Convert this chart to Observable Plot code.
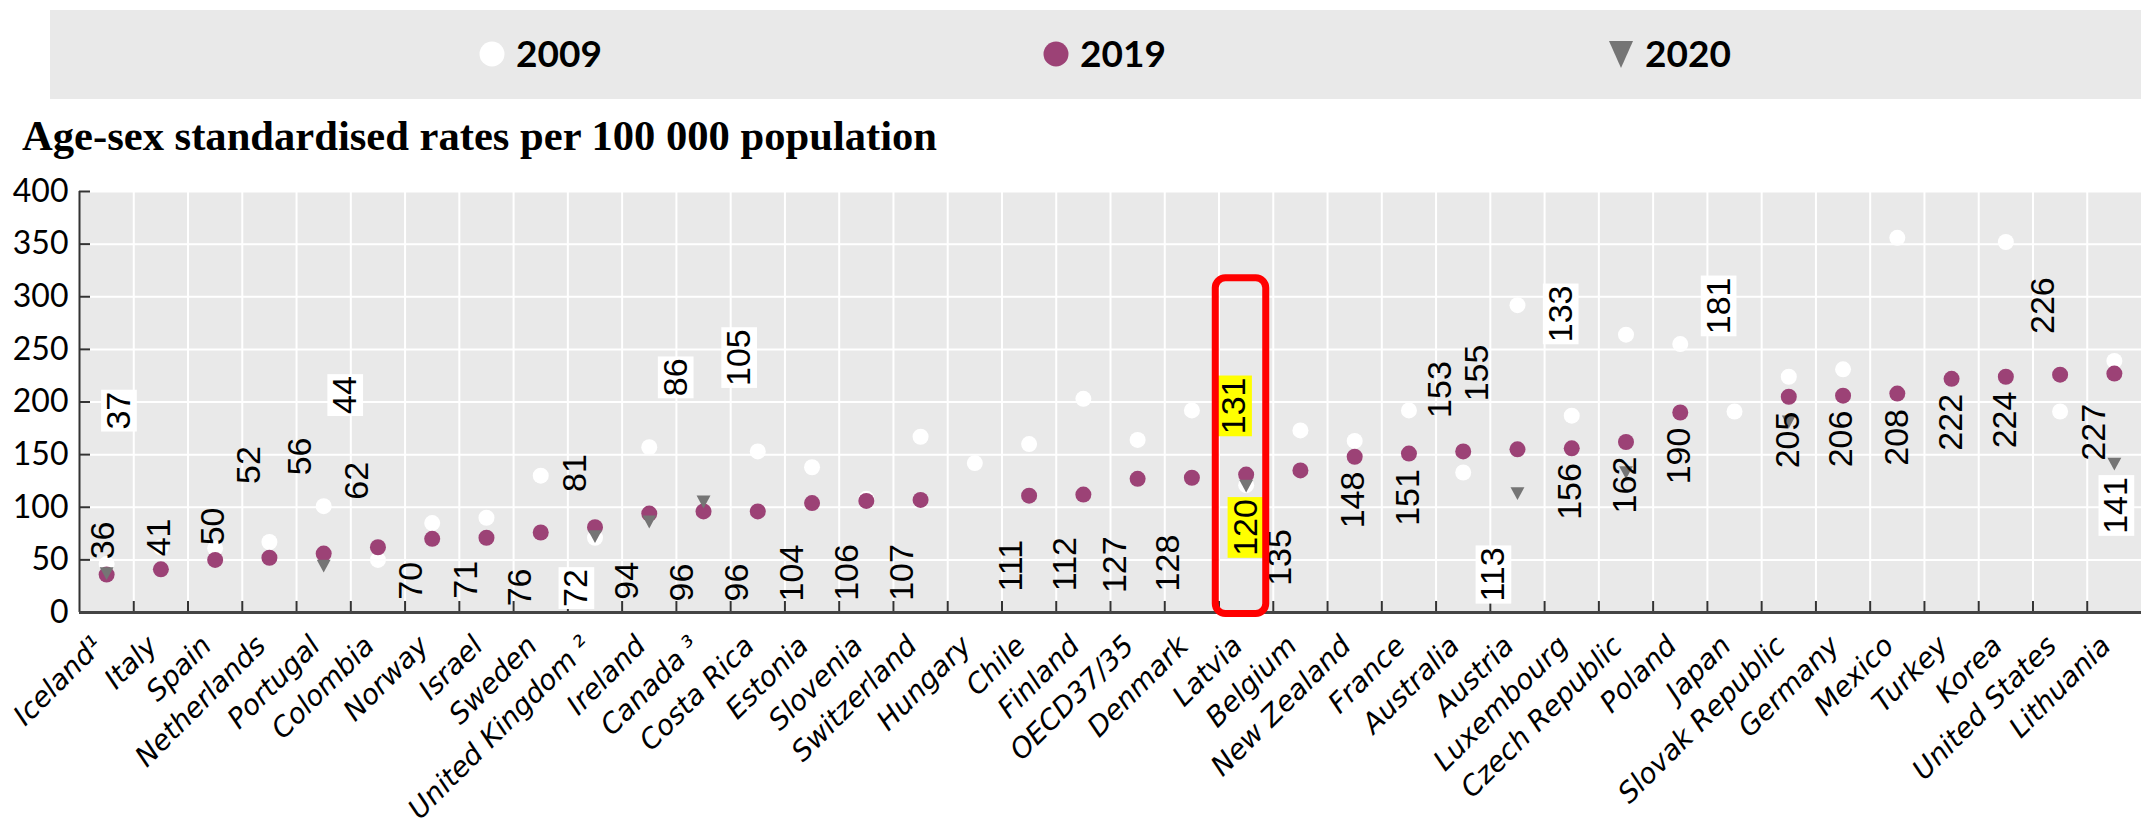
<!DOCTYPE html>
<html><head><meta charset="utf-8">
<script src="https://cdn.jsdelivr.net/npm/d3@7"></script>
<script src="https://cdn.jsdelivr.net/npm/@observablehq/plot@0.6"></script>
<style>
html,body{margin:0;padding:0;background:#fff;}
#wrap{position:relative;width:2141px;height:829px;overflow:hidden;}
#header,#chart svg{display:block;}
</style></head><body>
<div id="wrap"><svg id="header" width="2141" height="170"></svg><div id="chart"></div></div>
<script>
// ---- data ----
const countries = ["Iceland¹","Italy","Spain","Netherlands","Portugal","Colombia","Norway","Israel","Sweden","United Kingdom ²","Ireland","Canada ³","Costa Rica","Estonia","Slovenia","Switzerland","Hungary","Chile","Finland","OECD37/35","Denmark","Latvia","Belgium","New Zealand","France","Australia","Austria","Luxembourg","Czech Republic","Poland","Japan","Slovak Republic","Germany","Mexico","Turkey","Korea","United States","Lithuania"];
const v2009 = [46,62,61,67,101,50,85,90,130,71,157,null,153,138,108,167,142,160,203,164,192,121,173,163,192,133,292,187,264,255,191,224,231,356,null,352,191,239];
const v2019 = [36,41,50,52,56,62,70,71,76,81,94,96,96,104,106,107,null,111,112,127,128,131,135,148,151,153,155,156,162,190,null,205,206,208,222,224,226,227];
const v2020 = [37,null,null,null,44,null,null,null,null,72,86,105,null,null,null,null,null,null,null,null,null,120,null,null,null,null,113,null,133,null,null,181,null,null,null,null,null,141];
const seriesNames = ["2009","2019","2020"];
const yTicks = [0,50,100,150,200,250,300,350,400];
const highlight = "Latvia";
// label placements (x: position inside the category band, y: value axis)
const lab2019X = [0.44,0.46,0.46,0.13,0.06,0.11,0.11,0.12,0.12,0.13,0.10,0.11,0.12,0.14,0.15,0.16,null,0.16,0.17,0.09,0.07,0.28,0.13,0.48,0.48,0.08,-0.25,0.47,0.48,0.48,null,0.49,0.47,0.49,0.49,0.49,0.18,0.12];
const lab2019Y = [68.5,71.3,81.8,140.1,148.3,125.2,30.1,31.1,23.8,132.5,30.1,28.5,28.5,37.5,38,38,null,44.4,46,45.4,47,196.3,52.3,106.9,109.3,211.8,227.6,115,121.1,148.7,null,163.9,164.9,166.4,180.7,182.9,291.6,171.2];
const lab2020X = [0.73,null,null,null,0.90,null,null,null,null,0.16,0.99,1.16,null,null,null,null,null,null,null,null,null,0.49,null,null,null,null,0.06,null,-0.70,null,null,-0.79,null,null,null,null,null,0.54];
const lab2020Y = [191.8,null,null,null,206.6,null,null,null,null,23.2,223.4,242.2,null,null,null,null,null,null,null,null,null,80.8,null,null,null,null,36.1,null,283.7,null,null,291.3,null,null,null,null,null,101.7];

// ---- styles ----
const MAGENTA = "#9C4276", GREY = "#757575", BG = "#E9E9E9";
const LABEL_FONT = "'Liberation Sans Narrow','Arial Narrow',sans-serif";
const LFS = 34;

const rows = countries.map((c, i) => ({c, i, a: v2009[i], b: v2019[i], t: v2020[i]}));
const hiIdx = countries.indexOf(highlight);

const triDown = {draw(ctx, size) {
  const w = Math.sqrt(size) * 0.98, h = w * 0.92;
  ctx.moveTo(-w / 2, -h / 2); ctx.lineTo(w / 2, -h / 2); ctx.lineTo(0, h / 2); ctx.closePath();
}};

// ---- header: legend + title ----
const hdr = d3.select("#header");
hdr.append("rect").attr("x", 50).attr("y", 10).attr("width", 2091).attr("height", 89).attr("fill", BG);
const legendX = [492, 1056, 1621];
seriesNames.forEach((s, k) => {
  const cx = legendX[k];
  if (k < 2) hdr.append("circle").attr("cx", cx).attr("cy", 54).attr("r", 12.5).attr("fill", k === 0 ? "white" : MAGENTA);
  else hdr.append("path").attr("d", `M${cx - 12},41 L${cx + 12},41 L${cx},68 Z`).attr("fill", GREY);
  hdr.append("text").attr("x", cx + 24).attr("y", 67).attr("font-family", "Lato, sans-serif")
    .attr("font-weight", "bold").attr("font-size", 37).attr("fill", "#000").text(s);
});
hdr.append("text").attr("x", 22).attr("y", 150).attr("font-family", "'Liberation Serif', serif")
  .attr("font-weight", "bold").attr("font-size", 42.6).attr("fill", "#000")
  .text("Age-sex standardised rates per 100 000 population");

// ---- chart ----
const bounds = d3.range(1, countries.length);
const l19 = rows.filter(d => d.b != null);
const l20 = rows.filter(d => d.t != null);

const chart = Plot.plot({
  width: 2141, height: 659,
  marginLeft: 79, marginRight: 0, marginTop: 21, marginBottom: 217,
  x: {type: "linear", domain: [0, countries.length], axis: null},
  y: {domain: [0, 400], axis: null},
  marks: [
    Plot.frame({fill: BG, stroke: "none"}),
    Plot.ruleX(bounds, {stroke: "white", strokeWidth: 2}),
    Plot.ruleY(yTicks.filter(d => d > 0), {stroke: "white", strokeWidth: 2}),
    Plot.tickX(bounds, {x: d => d, insetTop: 410, stroke: "#333", strokeWidth: 2}),
    Plot.tickY(yTicks, {y: d => d, insetRight: 2051, stroke: "#333", strokeWidth: 2}),
    Plot.ruleX([0], {stroke: "#333", strokeWidth: 2}),
    Plot.ruleY([0], {stroke: "#444", strokeWidth: 3}),
    Plot.text(yTicks, {y: d => d, frameAnchor: "left", dx: -11, textAnchor: "end", text: d => String(d),
      fontFamily: "Lato, sans-serif", fontSize: 32, fill: "#000"}),
    Plot.text(rows, {x: d => d.i + 0.5, frameAnchor: "bottom", text: "c", rotate: -45, textAnchor: "end",
      dx: -2, dy: 35, fontStyle: "italic", fontFamily: "'DejaVu Sans', sans-serif", fontSize: 28, fill: "#000"}),
    Plot.dot(rows.filter(d => d.a != null), {x: d => d.i + 0.5, y: "a", r: 8, fill: "white"}),
    Plot.dot(rows.filter(d => d.b != null), {x: d => d.i + 0.5, y: "b", r: 8, fill: MAGENTA}),
    Plot.dot(rows.filter(d => d.t != null), {x: d => d.i + 0.5, y: "t", r: 8, fill: GREY, symbol: triDown}),
    Plot.text(l19, {x: d => d.i + lab2019X[d.i], y: d => lab2019Y[d.i], text: d => String(d.b), rotate: -90,
      fontFamily: LABEL_FONT, fontSize: LFS, fill: "#000"}),
    Plot.text(l20, {x: d => d.i + lab2020X[d.i], y: d => lab2020Y[d.i], text: d => String(d.t), rotate: -90,
      fontFamily: LABEL_FONT, fontSize: LFS, fill: "#000"}),
    Plot.rect([hiIdx], {x1: d => d - 0.06, x2: d => d + 0.87, y1: -1.4, y2: 317.5,
      fill: "none", stroke: "#FF0000", strokeWidth: 7, rx: 10})
  ]
});
document.getElementById("chart").appendChild(chart);

// label background boxes (drawn behind the value labels)
function addBoxes(g, data, colorFn) {
  const ns = "http://www.w3.org/2000/svg";
  if (!g) return;
  const texts = g.querySelectorAll("text");
  const bg = document.createElementNS(ns, "g");
  if (g.getAttribute("transform")) bg.setAttribute("transform", g.getAttribute("transform"));
  texts.forEach((t, k) => {
    const d = data[k];
    const col = d ? colorFn(d) : null;
    if (!col) return;
    const b = t.getBBox();
    const r = document.createElementNS(ns, "rect");
    r.setAttribute("x", b.x - 2); r.setAttribute("width", b.width + 4);
    r.setAttribute("y", -0.53 * LFS); r.setAttribute("height", 1.05 * LFS);
    const tr = t.getAttribute("transform");
    if (tr) r.setAttribute("transform", tr);
    r.setAttribute("fill", col);
    bg.appendChild(r);
  });
  g.parentNode.insertBefore(bg, g);
}
const textGroups = Array.from(chart.querySelectorAll("g")).filter(g => g.querySelectorAll(":scope > text").length > 0);
const g19 = textGroups.find(g => g.querySelectorAll(":scope > text").length === l19.length && g.querySelector(":scope > text").textContent === String(l19[0].b));
const g20 = textGroups.find(g => g.querySelectorAll(":scope > text").length === l20.length && g.querySelector(":scope > text").textContent === String(l20[0].t));
addBoxes(g20, l20, d => d.c === highlight ? "#FFFF00" : "#FFFFFF");
addBoxes(g19, l19, d => d.c === highlight ? "#FFFF00" : null);
</script>
</body></html>
